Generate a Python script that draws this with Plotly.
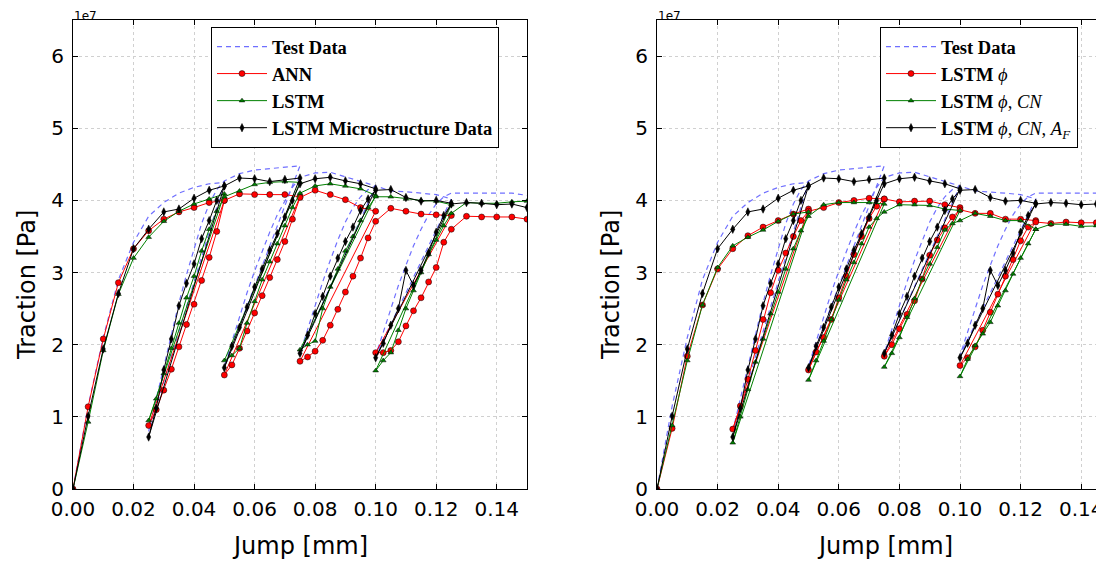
import plotly.graph_objects as go

# Jump [mm] sampling of the 5 loading / reloading paths (same for every series)
jump_mm = [
    0.0, 0.005, 0.01, 0.015, 0.02, 0.025, 0.03, 0.035, 0.04, 0.045, 0.05,
    0.025, 0.0275, 0.03, 0.0325, 0.035, 0.0375, 0.04, 0.0425, 0.045, 0.0475, 0.05, 0.055, 0.06, 0.065, 0.07, 0.075,
    0.05, 0.0525, 0.055, 0.0575, 0.06, 0.0625, 0.065, 0.0675, 0.07, 0.0725, 0.075, 0.08, 0.085, 0.09, 0.095, 0.1,
    0.075, 0.0775, 0.08, 0.0825, 0.085, 0.0875, 0.09, 0.0925, 0.095, 0.0975, 0.1, 0.105, 0.11, 0.115, 0.12, 0.125,
    0.1, 0.1025, 0.105, 0.1075, 0.11, 0.1125, 0.115, 0.1175, 0.12, 0.1225, 0.125, 0.13, 0.135, 0.14, 0.145, 0.15,
]

# Traction values in units of 1e7 Pa
test_data = [
    0.0, 1.15, 2.1, 2.9, 3.42, 3.78, 3.97, 4.1, 4.18, 4.23, 4.25,
    0.8, 1.25, 1.7, 2.15, 2.58, 2.97, 3.32, 3.68, 3.95, 4.15, 4.27, 4.37, 4.42, 4.44, 4.45, 4.48,
    1.7, 2.05, 2.4, 2.72, 3.02, 3.3, 3.56, 3.8, 4.0, 4.18, 4.32, 4.38, 4.39, 4.33, 4.27, 4.2,
    1.88, 2.22, 2.55, 2.87, 3.17, 3.45, 3.7, 3.9, 4.05, 4.15, 4.2, 4.13, 4.12, 4.1, 4.08, 4.02,
    1.85, 2.17, 2.5, 2.82, 3.1, 3.37, 3.6, 3.8, 3.95, 4.05, 4.1, 4.1, 4.1, 4.1, 4.1, 4.07,
]

ann = [
    0.0, 1.14, 2.08, 2.86, 3.33, 3.58, 3.74, 3.84, 3.9, 3.97, 4.0,
    0.88, 1.1, 1.37, 1.66, 1.97, 2.28, 2.56, 2.89, 3.21, 3.57, 4.0, 4.09, 4.08, 4.08, 4.08, 4.05,
    1.58, 1.72, 1.95, 2.19, 2.44, 2.68, 2.93, 3.18, 3.43, 3.74, 4.04, 4.14, 4.08, 4.01, 3.9, 3.85,
    1.77, 1.83, 1.91, 2.06, 2.27, 2.49, 2.73, 2.95, 3.2, 3.48, 3.71, 3.89, 3.85, 3.81, 3.8, 3.79,
    1.89, 1.89, 1.92, 2.04, 2.26, 2.47, 2.65, 2.87, 3.07, 3.42, 3.6, 3.78, 3.77, 3.77, 3.77, 3.74,
]

lstm = [
    0.0, 0.93, 1.92, 2.7, 3.2, 3.49, 3.71, 3.85, 3.95, 4.02, 4.09,
    0.95, 1.25, 1.6, 1.95, 2.3, 2.65, 2.95, 3.3, 3.6, 3.85, 4.05, 4.13, 4.22, 4.25, 4.26, 4.25,
    1.78, 1.85, 1.95, 2.3, 2.6, 2.9, 3.15, 3.4, 3.65, 3.9, 4.1, 4.2, 4.23, 4.2, 4.16, 4.07,
    1.93, 2.0, 2.05, 2.5, 2.8, 3.05, 3.3, 3.5, 3.72, 3.9, 4.05, 4.05, 4.02, 4.0, 3.99, 3.94,
    1.64, 1.78, 1.89, 2.2, 2.5, 2.75, 3.0, 3.25, 3.45, 3.65, 3.82, 3.97, 3.96, 3.96, 3.98, 3.99,
]

# LSTM with microstructure data (= LSTM phi, CN, A_F in the right panel)
lstm_micro = [
    0.0, 1.01, 1.94, 2.71, 3.33, 3.6, 3.84, 3.88, 4.03, 4.14, 4.2,
    0.72, 1.12, 1.65, 2.08, 2.54, 2.85, 3.12, 3.47, 3.72, 4.0, 4.2, 4.31, 4.3, 4.26, 4.29, 4.31,
    1.68, 1.98, 2.24, 2.52, 2.8, 3.05, 3.31, 3.54, 3.77, 4.0, 4.23, 4.3, 4.32, 4.27, 4.23, 4.16,
    1.88, 2.13, 2.43, 2.67, 2.95, 3.2, 3.43, 3.63, 3.86, 4.02, 4.14, 4.15, 4.04, 3.99, 4.0, 3.96,
    1.82, 2.02, 2.27, 2.5, 3.03, 2.82, 3.03, 3.27, 3.56, 3.79, 3.95, 3.97, 3.96, 3.94, 3.95, 3.9,
]

lstm_phi = [
    0.0, 0.84, 1.84, 2.55, 3.05, 3.33, 3.51, 3.63, 3.72, 3.81, 3.88,
    0.83, 1.15, 1.52, 1.92, 2.35, 2.72, 3.03, 3.27, 3.5, 3.72, 3.85, 3.9, 3.97, 4.0, 4.03, 4.02,
    1.65, 1.9, 2.1, 2.35, 2.65, 2.95, 3.25, 3.5, 3.75, 3.92, 4.02, 3.98, 3.99, 3.99, 3.94, 3.9,
    1.84, 2.0, 2.22, 2.42, 2.61, 2.91, 3.24, 3.45, 3.62, 3.77, 3.87, 3.82, 3.82, 3.74, 3.74, 3.72,
    1.71, 1.82, 1.97, 2.2, 2.45, 2.7, 2.95, 3.18, 3.44, 3.63, 3.7, 3.68, 3.7, 3.69, 3.69, 3.69,
]

lstm_phi_cn = [
    0.0, 0.88, 1.78, 2.55, 3.07, 3.37, 3.49, 3.59, 3.71, 3.81, 3.84,
    0.64, 1.0, 1.38, 1.76, 2.08, 2.43, 2.73, 3.05, 3.33, 3.58, 3.78, 3.94, 3.97, 3.97, 3.97, 3.95,
    1.51, 1.78, 2.05, 2.35, 2.62, 2.9, 3.14, 3.4, 3.63, 3.75, 3.84, 3.94, 3.94, 3.93, 3.88, 3.86,
    1.69, 1.88, 2.1, 2.38, 2.64, 2.91, 3.12, 3.35, 3.59, 3.68, 3.72, 3.82, 3.78, 3.72, 3.72, 3.6,
    1.56, 1.8, 1.99, 2.15, 2.31, 2.54, 2.75, 2.98, 3.2, 3.4, 3.6, 3.67, 3.67, 3.64, 3.65, 3.65,
]

x_ticks = [0.0, 0.02, 0.04, 0.06, 0.08, 0.10, 0.12, 0.14]
y_ticks = [0, 1, 2, 3, 4, 5, 6]

# page body has an 8 px margin: the figure is placed at (8, 8) in the window
OFF = 8
W, H = 1104 - OFF, 563 - OFF


def fx(px):
    return (px - OFF) / W


def fy(py):
    return 1 - (py - OFF) / H


TICK_FONT = dict(family="DejaVu Sans", size=20, color="black")
LEG_FONT = dict(family="Liberation Serif, DejaVu Serif, serif", size=18.5, color="black")

fig = go.Figure()

BLUE = "rgba(50,50,255,0.7)"
RED = "#ff0000"
GREEN = "#008000"
BLACK = "#000000"


def add_series(y, name, kind, xa, ya, leg):
    if kind == "test":
        fig.add_trace(go.Scatter(x=jump_mm, y=y, name=name, mode="lines",
                                 line=dict(color=BLUE, width=1.2, dash="5px,4px"),
                                 xaxis=xa, yaxis=ya, legend=leg))
        return
    if kind == "red":
        col, sym, sz = RED, "circle", 6
    elif kind == "green":
        col, sym, sz = GREEN, "triangle-up", 5
    else:
        col, sym, sz = BLACK, "diamond-tall", 6
    fig.add_trace(go.Scatter(x=jump_mm, y=y, name=name, mode="lines+markers",
                             line=dict(color=col, width=1),
                             marker=dict(color=col, symbol=sym, size=sz,
                                         line=dict(color="black", width=0.5)),
                             xaxis=xa, yaxis=ya, legend=leg))


# Left panel
add_series(test_data, "<b>Test Data</b>", "test", "x", "y", "legend")
add_series(ann, "<b>ANN</b>", "red", "x", "y", "legend")
add_series(lstm, "<b>LSTM</b>", "green", "x", "y", "legend")
add_series(lstm_micro, "<b>LSTM Microstructure Data</b>", "black", "x", "y", "legend")

# Right panel
add_series(test_data, "<b>Test Data</b>", "test", "x2", "y2", "legend2")
add_series(lstm_phi, "<b>LSTM</b> <i>ϕ</i>", "red", "x2", "y2", "legend2")
add_series(lstm_phi_cn, "<b>LSTM</b> <i>ϕ</i>, <i>CN</i>", "green", "x2", "y2", "legend2")
add_series(lstm_micro, "<b>LSTM</b> <i>ϕ</i>, <i>CN</i>, <i>A<sub>F</sub></i>", "black", "x2", "y2", "legend2")

ydom = [fy(489), fy(20)]

axis_common = dict(
    showline=True, linecolor="black", linewidth=1,
    ticks="inside", ticklen=5, tickcolor="black", tickwidth=1,
    showgrid=True, gridcolor="#d0d0d0", griddash="dot", gridwidth=1,
    zeroline=False, tickfont=TICK_FONT, automargin=False,
)

fig.update_layout(
    width=W, height=H,
    margin=dict(l=0, r=0, t=0, b=0),
    paper_bgcolor="white", plot_bgcolor="white",
    xaxis=dict(domain=[fx(73), fx(527)], range=[0, 0.15], tickvals=x_ticks,
               tickformat=".2f", mirror="ticks", anchor="y", ticklabelstandoff=2,
               **axis_common),
    yaxis=dict(domain=ydom, range=[0, 6.5], tickvals=y_ticks, mirror="ticks",
               anchor="x", ticklabelstandoff=4, **axis_common),
    xaxis2=dict(domain=[fx(657), 1.0], range=[0, (1104 - 657) / 3030.0], tickvals=x_ticks,
                tickformat=".2f", mirror="ticks", anchor="y2", ticklabelstandoff=2,
                **axis_common),
    yaxis2=dict(domain=ydom, range=[0, 6.5], tickvals=y_ticks, mirror=False,
                anchor="x2", ticklabelstandoff=4, **axis_common),
    legend=dict(x=fx(211), y=fy(27), xanchor="left", yanchor="top",
                bgcolor="white", bordercolor="black", borderwidth=1,
                font=LEG_FONT, itemwidth=50, tracegroupgap=0),
    legend2=dict(x=fx(880), y=fy(27), xanchor="left", yanchor="top",
                 bgcolor="white", bordercolor="black", borderwidth=1,
                 font=LEG_FONT, itemwidth=50, tracegroupgap=0),
    showlegend=True,
)

AX_FONT = dict(family="DejaVu Sans", size=24, color="black")
annots = [
    dict(x=fx(27), y=fy(285), text="Traction [Pa]", textangle=-90, font=AX_FONT,
         yanchor="middle"),
    dict(x=fx(611), y=fy(285), text="Traction [Pa]", textangle=-90, font=AX_FONT,
         yanchor="middle"),
    dict(x=fx(300), y=fy(546), text="Jump [mm]", font=AX_FONT, yanchor="middle"),
    dict(x=fx(885), y=fy(546), text="Jump [mm]", font=AX_FONT, yanchor="middle"),
    dict(x=fx(85), y=fy(8), text="1e7", yanchor="top",
         font=dict(family="DejaVu Sans", size=12, color="black")),
    dict(x=fx(669), y=fy(8), text="1e7", yanchor="top",
         font=dict(family="DejaVu Sans", size=12, color="black")),
]
for a in annots:
    fig.add_annotation(xref="paper", yref="paper", showarrow=False,
                       xanchor="center", borderpad=0, **a)

fig.write_html("out.html")
